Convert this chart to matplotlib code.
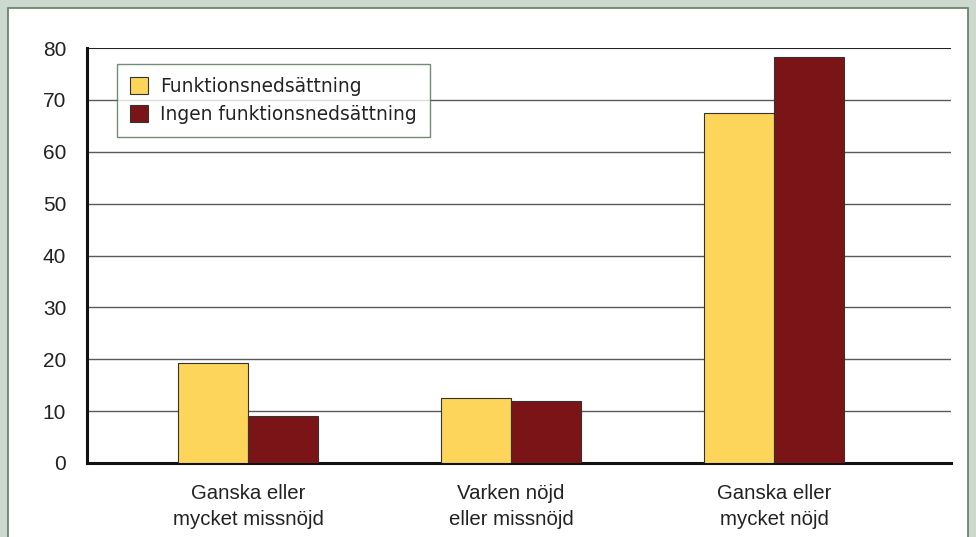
import numpy as np
import matplotlib.pyplot as plt
from matplotlib.patches import Rectangle

categories = ['Ganska eller\nmycket missnöjd', 'Varken nöjd\neller missnöjd', 'Ganska eller\nmycket nöjd']
series_names = ['Funktionsnedsättning', 'Ingen funktionsnedsättning']
funk = [19.3, 12.5, 67.5]
ingen = [9.0, 12.0, 78.3]
yticks = [0, 10, 20, 30, 40, 50, 60, 70, 80]

W, H = 976, 537
fig = plt.figure(figsize=(W / 100, H / 100), dpi=100, facecolor='#cdd8ce')

# white panel with green border
fig.patches.append(Rectangle((8 / W, -0.05), 960 / W, 1.05 - 8 / H, transform=fig.transFigure,
                             facecolor='white', edgecolor='#5f7f62', linewidth=1.2, zorder=-5))

ax = fig.add_axes([87 / W, 1 - 463 / H, (951 - 87) / W, (463 - 48) / H])
ax.set_zorder(2)
ax.set_facecolor('none')

x = np.arange(len(categories))
w = 0.266
ax.bar(x - w / 2, funk, w, color='#fed55b', edgecolor='#333333', linewidth=0.8, label=series_names[0], zorder=3)
ax.bar(x + w / 2, ingen, w, color='#7b1416', edgecolor='#333333', linewidth=0.8, label=series_names[1], zorder=3)

ax.set_xlim(-0.612, 2.673)
ax.set_ylim(0, 80)
ax.set_yticks(yticks)
for t in yticks[1:-1]:
    ax.axhline(t, color='#5a5a5a', linewidth=1.0, zorder=1)
ax.axhline(80, color='#222222', linewidth=1.5, zorder=1)

ax.set_xticks(x)
ax.set_xticklabels(categories, fontsize=14.7, family='Liberation Sans', color='#222222', linespacing=1.5)
ax.tick_params(axis='y', labelsize=15, length=0, pad=15, labelcolor='#222222')
for lab in ax.get_yticklabels():
    lab.set_family('Liberation Sans')
ax.tick_params(axis='x', length=0, pad=15)

for s in ['top', 'right']:
    ax.spines[s].set_visible(False)
ax.spines['left'].set_linewidth(2.2)
ax.spines['bottom'].set_linewidth(2.2)
ax.spines['left'].set_color('#111111')
ax.spines['bottom'].set_color('#111111')

leg = ax.legend(loc='upper left', bbox_to_anchor=((117 - 87) / 864, 1 - (64 - 48) / 415),
                frameon=True, fancybox=False, fontsize=13.4, handlelength=0.97, handleheight=1.0,
                handletextpad=0.65, borderpad=0.7, labelspacing=0.47, borderaxespad=0)
leg.get_frame().set_edgecolor('#4f6f52')
leg.get_frame().set_linewidth(1.0)
for t in leg.get_texts():
    t.set_color('#222222')

plt.savefig('out.png', dpi=100, facecolor=fig.get_facecolor())
